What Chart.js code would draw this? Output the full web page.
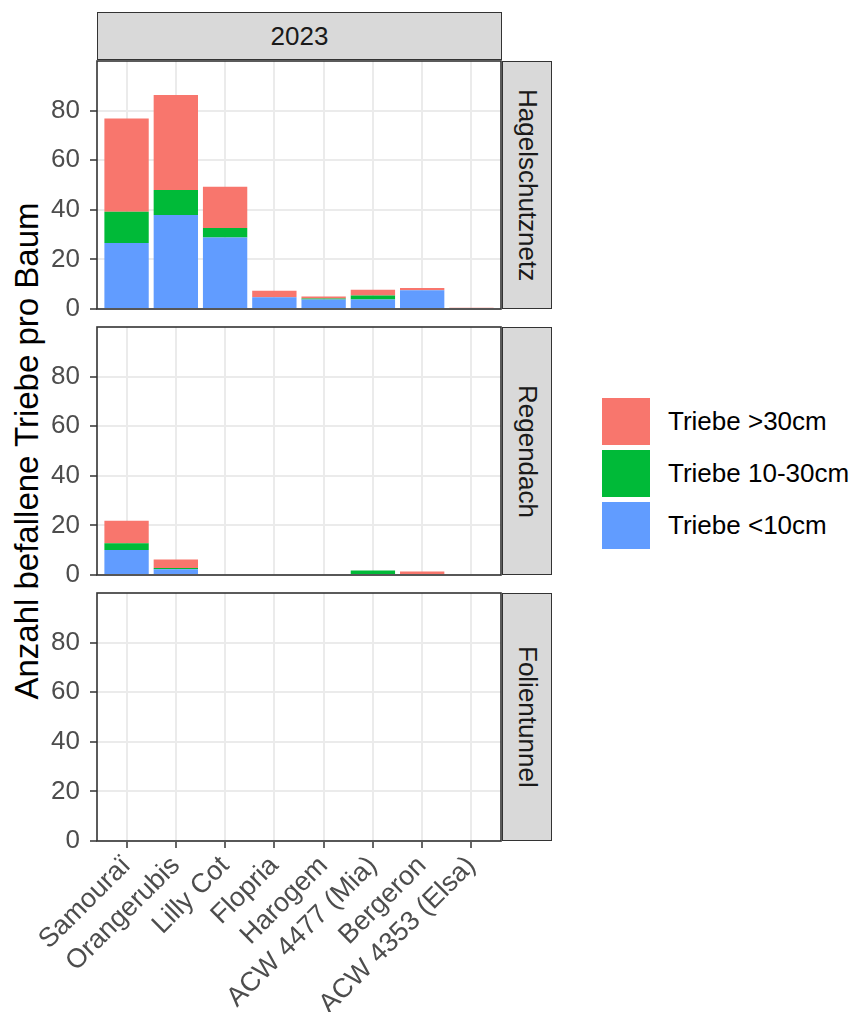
<!DOCTYPE html>
<html>
<head>
<meta charset="utf-8">
<script src="https://cdn.jsdelivr.net/npm/chart.js@4.4.1/dist/chart.umd.min.js"></script>
<style>
  html, body { margin: 0; padding: 0; background: #fff; }
  #root { position: relative; width: 854px; height: 1012px; overflow: hidden; font-family: 'Liberation Sans', Arial, sans-serif; }
  .cv { position: absolute; left: 0; }
  .strip { position: absolute; box-sizing: border-box; background: #d9d9d9; border: 1.6px solid #333; color: #1a1a1a; font-size: 26px; display: flex; align-items: center; justify-content: center; }
  .vstrip { writing-mode: vertical-rl; }
  .ytitle { position: absolute; left: 27px; top: 451px; transform: translate(-50%, -50%) rotate(-90deg); font-size: 33px; color: #000; white-space: nowrap; }
  .key { position: absolute; left: 602px; width: 48px; height: 47px; }
  .ktext { position: absolute; left: 668px; font-size: 26px; color: #000; white-space: nowrap; line-height: 47px; height: 47px; }
</style>
</head>
<body>
<div id="root">
  <div class="strip" style="left:97px; top:12px; width:405px; height:48px;">2023</div>
  <div class="ytitle">Anzahl befallene Triebe pro Baum</div>
</div>
<script>
// ---- data ----
const categories = ["Samouraï", "Orangerubis", "Lilly Cot", "Flopria", "Harogem", "ACW 4477 (Mia)", "Bergeron", "ACW 4353 (Elsa)"];
const panelNames = ["Hagelschutznetz", "Regendach", "Folientunnel"];
const seriesNames = ["Triebe <10cm", "Triebe 10-30cm", "Triebe >30cm"];
const seriesColors = ["#619CFF", "#00BA38", "#F8766D"];
const yTicks = [0, 20, 40, 60, 80];

const hagel_lt10  = [26.6, 37.9, 28.8, 4.7, 3.8, 3.8, 7.6, 0];
const hagel_10_30 = [12.6, 10.1, 3.9, 0, 0.4, 1.6, 0, 0];
const hagel_gt30  = [37.6, 38.3, 16.6, 2.7, 0.8, 2.4, 0.9, 0.5];

const regen_lt10  = [10.1, 2.3, 0, 0, 0, 0, 0, 0];
const regen_10_30 = [2.7, 0.5, 0, 0, 0, 1.8, 0, 0];
const regen_gt30  = [9.1, 3.5, 0, 0, 0, 0, 1.4, 0];

const folie_lt10  = [0, 0, 0, 0, 0, 0, 0, 0];
const folie_10_30 = [0, 0, 0, 0, 0, 0, 0, 0];
const folie_gt30  = [0, 0, 0, 0, 0, 0, 0, 0];

const panelData = [
  [hagel_lt10, hagel_10_30, hagel_gt30],
  [regen_lt10, regen_10_30, regen_gt30],
  [folie_lt10, folie_10_30, folie_gt30]
];

// ---- layout ----
Chart.defaults.font.family = "'Liberation Sans', Arial, sans-serif";
const root = document.getElementById('root');
const PANEL_LEFT = 97, PANEL_RIGHT = 501, PANEL_H = 248, PADTOP = 26;
const panelTops = [61, 327, 593];
const xHeights = [26, 26, 1012 - (593 + 248)];

const borderPlugin = {
  id: 'panelBorder',
  afterDraw(chart) {
    const a = chart.chartArea, c = chart.ctx;
    c.save();
    c.strokeStyle = '#333333';
    c.lineWidth = 1.6;
    c.strokeRect(a.left, a.top, a.right - a.left, a.bottom - a.top);
    c.restore();
  }
};

panelNames.forEach((name, p) => {
  const showX = p === panelNames.length - 1;
  const cv = document.createElement('canvas');
  const h = PADTOP + PANEL_H + xHeights[p];
  cv.width = PANEL_RIGHT + 1; cv.height = h;
  cv.className = 'cv';
  cv.style.top = (panelTops[p] - PADTOP) + 'px';
  cv.style.width = (PANEL_RIGHT + 1) + 'px'; cv.style.height = h + 'px';
  root.appendChild(cv);

  const strip = document.createElement('div');
  strip.className = 'strip vstrip';
  strip.style.left = '502px'; strip.style.top = panelTops[p] + 'px';
  strip.style.width = '50px'; strip.style.height = PANEL_H + 'px';
  strip.textContent = name;
  root.appendChild(strip);

  const datasets = seriesNames.map((s, i) => ({
    label: s,
    data: panelData[p][i].map((v, k) => ({ x: k, y: v })),
    backgroundColor: seriesColors[i],
    borderWidth: 0,
    barPercentage: 0.9,
    categoryPercentage: 1.0
  }));

  new Chart(cv, {
    type: 'bar',
    data: { datasets },
    plugins: [borderPlugin],
    options: {
      responsive: false,
      animation: false,
      devicePixelRatio: 1,
      layout: { padding: { top: PADTOP, right: 1, bottom: 0, left: 0 } },
      plugins: { legend: { display: false }, tooltip: { enabled: false } },
      scales: {
        x: {
          type: 'linear',
          stacked: true,
          offset: false,
          min: -0.6, max: categories.length - 1 + 0.6,
          afterBuildTicks: (s) => { s.ticks = categories.map((_, i) => ({ value: i })); },
          afterFit: (s) => { s.height = xHeights[p]; },
          border: { display: false },
          grid: {
            offset: false,
            color: '#ebebeb', lineWidth: 2,
            drawTicks: showX, tickLength: 7, tickColor: '#333333', tickWidth: 1.5
          },
          ticks: {
            display: showX,
            autoSkip: false,
            minRotation: 45, maxRotation: 45,
            padding: 2,
            color: '#4d4d4d',
            font: { size: 27 },
            callback: (v) => categories[v]
          }
        },
        y: {
          stacked: true,
          min: 0, max: 100,
          afterBuildTicks: (s) => {
            const t = [];
            for (let v = 0; v < 100; v += 10) t.push({ value: v });
            s.ticks = t;
          },
          afterFit: (s) => { s.width = PANEL_LEFT; },
          border: { display: false },
          grid: {
            color: '#ebebeb',
            lineWidth: (ctx) => (yTicks.includes(ctx.tick.value) ? 2 : 1),
            tickLength: 7,
            tickColor: (ctx) => (yTicks.includes(ctx.tick.value) ? '#333333' : 'rgba(0,0,0,0)'),
            tickWidth: 1.5
          },
          ticks: {
            padding: 10,
            color: '#4d4d4d',
            font: { size: 26 },
            callback: (v) => (yTicks.includes(v) ? String(v) : '')
          }
        }
      }
    }
  });
});

// ---- legend (top to bottom: >30, 10-30, <10) ----
const keyTops = [398, 450, 502];
[2, 1, 0].forEach((si, j) => {
  const k = document.createElement('div');
  k.className = 'key';
  k.style.top = keyTops[j] + 'px';
  k.style.background = seriesColors[si];
  root.appendChild(k);
  const t = document.createElement('div');
  t.className = 'ktext';
  t.style.top = keyTops[j] + 'px';
  t.textContent = seriesNames[si];
  root.appendChild(t);
});
</script>
</body>
</html>
